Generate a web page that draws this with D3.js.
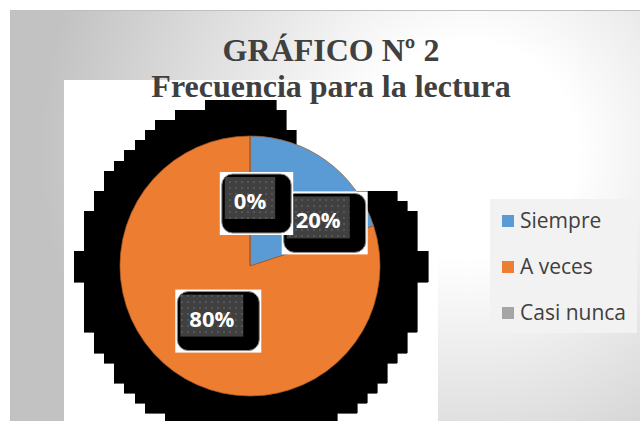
<!DOCTYPE html>
<html lang="es">
<head>
<meta charset="utf-8">
<title>Gráfico Nº 2</title>
<script src="https://cdn.jsdelivr.net/npm/d3@7"></script>
<style>
  html, body { margin: 0; padding: 0; background: #fff; }
  svg { display: block; }
</style>
</head>
<body>
<script>
// datos del grafico
const categorias = ["Siempre", "A veces", "Casi nunca"];
const valores = [20, 80, 0];
const colores = ["#5b9bd5", "#ed7d31", "#a5a5a5"];
const titulo = ["GRÁFICO Nº 2", "Frecuencia para la lectura"];

const width = 640, height = 421;
const cx = 250, cy = 266, radius = 130;

// sombra "pixelada" de la porcion A veces
const sombra = { serie: "A veces", d: 42, dx: 1, dy: 4, celda: 10.1, x0: 3.3, y0: -1 };
// Excel movio la etiqueta del 20% para no pisar la del 0%
const ajusteEtiqueta = { "Siempre": [30, 7] };

const datos = categorias.map((c, i) => ({ categoria: c, valor: valores[i], color: colores[i] }));
const total = d3.sum(valores);

const svg = d3.select("body").append("svg")
    .attr("width", width)
    .attr("height", height);

const defs = svg.append("defs");

const grad = defs.append("radialGradient")
    .attr("id", "fondo")
    .attr("gradientUnits", "userSpaceOnUse")
    .attr("cx", 470).attr("cy", 150).attr("r", 430);
grad.append("stop").attr("offset", "0%").attr("stop-color", "#ffffff");
grad.append("stop").attr("offset", "25%").attr("stop-color", "#ffffff");
grad.append("stop").attr("offset", "100%").attr("stop-color", "#c2c2c2");

const pat = defs.append("pattern")
    .attr("id", "puntos")
    .attr("patternUnits", "userSpaceOnUse")
    .attr("width", 6).attr("height", 6);
pat.append("rect").attr("width", 6).attr("height", 6).attr("fill", "#404040");
pat.append("rect").attr("x", 1).attr("y", 1).attr("width", 2).attr("height", 2).attr("fill", "#565656");

// fondo del area del grafico
svg.append("rect")
    .attr("x", 10.5).attr("y", 10.5)
    .attr("width", width - 10).attr("height", height - 10)
    .attr("fill", "url(#fondo)")
    .attr("stroke", "#bfbfbf");

// area de trazado blanca
svg.append("rect")
    .attr("x", 64).attr("y", 80)
    .attr("width", 374).attr("height", height - 80)
    .attr("fill", "#ffffff");

// titulo
svg.append("g").selectAll("text")
    .data(titulo)
    .enter()
    .append("text")
    .attr("x", 331)
    .attr("y", (d, i) => 61 + i * 36)
    .attr("text-anchor", "middle")
    .attr("font-family", "'Liberation Serif', 'Times New Roman', serif")
    .attr("font-weight", "bold")
    .attr("font-size", 32)
    .attr("fill", "#404040")
    .text(d => d);

const pie = d3.pie().value(d => d.valor).sort(null);
const arcos = pie(datos);
const arc = d3.arc().innerRadius(0).outerRadius(radius);
const arcEtiqueta = d3.arc().innerRadius(radius * 0.5).outerRadius(radius * 0.5);

// sombra: se dibuja la porcion ensanchada en un canvas y se muestrea en bloques
const cnv = document.createElement("canvas");
cnv.width = width; cnv.height = height;
const ctx = cnv.getContext("2d");
ctx.translate(cx + sombra.dx, cy + sombra.dy);
const arcCtx = d3.arc().innerRadius(0).outerRadius(radius).context(ctx);
ctx.beginPath();
arcCtx(arcos.find(a => a.data.categoria === sombra.serie));
ctx.fillStyle = "#000";
ctx.fill();
ctx.lineWidth = 2 * sombra.d;
ctx.lineJoin = "round";
ctx.strokeStyle = "#000";
ctx.stroke();
const pix = ctx.getImageData(0, 0, width, height).data;
let camino = "";
for (let y = sombra.y0; y < height; y += sombra.celda) {
    for (let x = sombra.x0; x < width; x += sombra.celda) {
        const px = Math.round(x + sombra.celda / 2), py = Math.round(y + sombra.celda / 2);
        if (px < 0 || py < 0 || px >= width || py >= height) continue;
        if (pix[(py * width + px) * 4 + 3] > 127) {
            const x1 = Math.round(x), y1 = Math.round(y);
            const x2 = Math.round(x + sombra.celda), y2 = Math.round(y + sombra.celda);
            camino += `M${x1},${y1}H${x2}V${y2}H${x1}Z`;
        }
    }
}
svg.append("path")
    .attr("d", camino)
    .attr("fill", "#000")
    .attr("stroke", "#000")
    .attr("stroke-width", 0.6)
    .attr("shape-rendering", "crispEdges");

// porciones
const gPie = svg.append("g").attr("transform", `translate(${cx},${cy})`);
gPie.selectAll("path")
    .data(arcos)
    .enter()
    .append("path")
    .attr("d", arc)
    .attr("fill", d => d.data.color)
    .attr("stroke", "#a85a26")
    .attr("stroke-width", 0.7);

// etiquetas de datos
const fmt = d3.format(".0%");
arcos.forEach(d => {
    const c = arcEtiqueta.centroid(d);
    const aj = ajusteEtiqueta[d.data.categoria] || [0, 0];
    const tx = cx + c[0] + aj[0], ty = cy + c[1] + aj[1];
    const g = svg.append("g");
    const t = g.append("text")
        .attr("x", tx)
        .attr("y", ty + 8)
        .attr("text-anchor", "middle")
        .attr("font-family", "'Open Sans', sans-serif")
        .attr("font-weight", "bold")
        .attr("font-size", 22)
        .attr("fill", "#ffffff")
        .text(fmt(d.data.valor / total));
    const tw = t.node().getComputedTextLength();
    const bx = tx - tw / 2 - 9, by = ty - 24, bw = tw + 18, bh = 42;
    g.insert("rect", "text")
        .attr("x", bx - 5).attr("y", by - 5)
        .attr("width", bw + 23).attr("height", bh + 21)
        .attr("fill", "#ffffff");
    g.insert("rect", "text")
        .attr("x", bx - 3).attr("y", by - 3)
        .attr("width", bw + 19).attr("height", bh + 17)
        .attr("rx", 11)
        .attr("fill", "#000")
        .attr("stroke", "#8c8c8c")
        .attr("stroke-width", 1);
    g.insert("rect", "text")
        .attr("x", bx).attr("y", by)
        .attr("width", bw).attr("height", bh)
        .attr("fill", "url(#puntos)");
});

// leyenda
svg.append("rect")
    .attr("x", 490).attr("y", 199)
    .attr("width", 147).attr("height", 134)
    .attr("fill", "#f2f2f2");

const leyenda = svg.append("g").selectAll("g")
    .data(datos)
    .enter()
    .append("g")
    .attr("transform", (d, i) => `translate(502, ${221 + i * 46})`);
leyenda.append("rect")
    .attr("x", 0).attr("y", -6)
    .attr("width", 12).attr("height", 12)
    .attr("fill", d => d.color);
leyenda.append("text")
    .attr("x", 18)
    .attr("y", 7)
    .attr("font-family", "'Open Sans', sans-serif")
    .attr("font-size", 21)
    .attr("fill", "#404040")
    .text(d => d.categoria);
</script>
</body>
</html>
